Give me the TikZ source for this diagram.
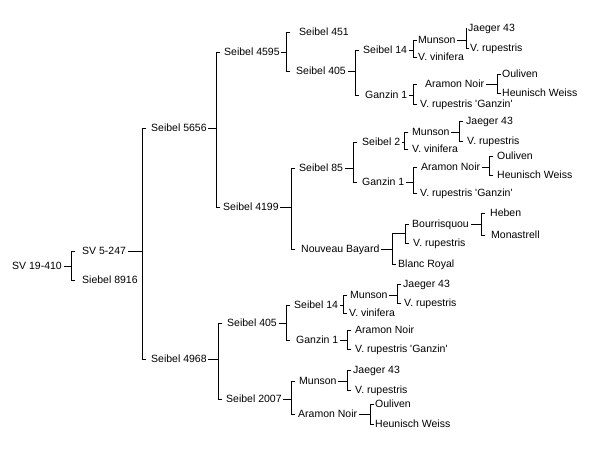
\documentclass[tikz,border=0pt]{standalone}
\usepackage{fontspec}
\newfontfamily\cvfont{Liberation Sans}

\begin{document}
\begin{tikzpicture}[x=1pt, y=-1pt,
    cv/.style={anchor=west, inner xsep=2pt, inner ysep=0pt, text height=7.5pt, text depth=0pt, font=\cvfont\fontsize{10.5}{12}\selectfont},
    ln/.style={line width=0.8pt, line cap=rect}
]
\path[fill=white] (0,0) rectangle (592,459);
\useasboundingbox (0,0) rectangle (592,459);

\node[cv] (sv19) at (10,266) {SV 19-410};
\node[cv] (sv5) at (80,251) {SV 5-247};
\node[cv] (s8916) at (80,280) {Siebel 8916};
\node[cv] (s5656) at (149,128) {Seibel 5656};
\node[cv] (s4968) at (149,359) {Seibel 4968};
\node[cv] (s4595) at (222,52) {Seibel 4595};
\node[cv] (s4199) at (221,207) {Seibel 4199};

\node[cv] (s451) at (297,32) {Seibel 451};
\node[cv] (s405a) at (294,71) {Seibel 405};
\node[cv] (s14a) at (361,50) {Seibel 14};
\node[cv] (g1a) at (363,95) {Ganzin 1};
\node[cv] (mua) at (416,40) {Munson};
\node[cv] (vva) at (416,57) {V. vinifera};
\node[cv] (jaa) at (466,28) {Jaeger 43};
\node[cv] (vra) at (468,48) {V. rupestris};
\node[cv] (ana) at (423,84) {Aramon Noir};
\node[cv] (vga) at (418,104) {V. rupestris 'Ganzin'};
\node[cv] (oua) at (500,74) {Ouliven};
\node[cv] (hwa) at (500,93) {Heunisch Weiss};

\node[cv] (s85) at (297,168) {Seibel 85};
\node[cv] (nb) at (299,249) {Nouveau Bayard};
\node[cv] (s2) at (360,142) {Seibel 2};
\node[cv] (g1b) at (360,182) {Ganzin 1};
\node[cv] (mub) at (410,132) {Munson};
\node[cv] (vvb) at (410,149) {V. vinifera};
\node[cv] (jab) at (464,121) {Jaeger 43};
\node[cv] (vrb) at (465,141) {V. rupestris};
\node[cv] (anb) at (419,167) {Aramon Noir};
\node[cv] (vgb) at (418,193) {V. rupestris 'Ganzin'};
\node[cv] (oub) at (495,156) {Ouliven};
\node[cv] (hwb) at (495,175) {Heunisch Weiss};
\coordinate (bx) at (405,233);
\node[cv] (bou) at (410,224) {Bourrisquou};
\node[cv] (vrc) at (411,243) {V. rupestris};
\node[cv] (br) at (396,264) {Blanc Royal};
\node[cv] (heb) at (488,213) {Heben};
\node[cv] (mon) at (489,235) {Monastrell};

\node[cv] (s405b) at (225,323) {Seibel 405};
\node[cv] (s2007) at (224,399) {Seibel 2007};
\node[cv] (s14b) at (292,305) {Seibel 14};
\node[cv] (g1c) at (294,340) {Ganzin 1};
\node[cv] (muc) at (348,295) {Munson};
\node[cv] (vvc) at (347,313) {V. vinifera};
\node[cv] (jac) at (401,284) {Jaeger 43};
\node[cv] (vrd) at (402,303) {V. rupestris};
\node[cv] (anc) at (353,330) {Aramon Noir};
\node[cv] (vgc) at (353,349) {V. rupestris 'Ganzin'};
\node[cv] (mud) at (297,381) {Munson};
\node[cv] (an4) at (296,414) {Aramon Noir};
\node[cv] (jad) at (351,370) {Jaeger 43};
\node[cv] (vre) at (353,390) {V. rupestris};
\node[cv] (oud) at (373,404) {Ouliven};
\node[cv] (hwd) at (373,424) {Heunisch Weiss};

\draw[ln] (sv19.east) -- (sv19.east -| 71,0) (sv5.west -| 75,0) -| (s8916.west -| 71,0) -- (s8916.west -| 75,0);
\draw[ln] (sv5.east) -- (sv5.east -| 142,0) (s5656.west -| 146,0) -| (s4968.west -| 142,0) -- (s4968.west -| 146,0);
\draw[ln] (s5656.east) -- (s5656.east -| 216,0) (s4595.west -| 220,0) -| (s4199.west -| 216,0) -- (s4199.west -| 220,0);
\draw[ln] (s4595.east) -- (s4595.east -| 286,0) (s451.west -| 290,0) -| (s405a.west -| 286,0) -- (s405a.west -| 290,0);
\draw[ln] (s405a.east) -- (s405a.east -| 355,0) (s14a.west -| 359,0) -| (g1a.west -| 355,0) -- (g1a.west -| 359,0);
\draw[ln] (s14a.east) -- (s14a.east -| 413,0) (mua.west -| 417,0) -| (vva.west -| 413,0) -- (vva.west -| 417,0);
\draw[ln] (mua.east) -- (mua.east -| 466,0) (jaa.west -| 467,0) -| (vra.west -| 466,0) -- (vra.west -| 469,0);
\draw[ln] (g1a.east) -- (g1a.east -| 413,0) (ana.west -| 417,0) -| (vga.west -| 413,0) -- (vga.west -| 417,0);
\draw[ln] (ana.east) -- (ana.east -| 497,0) (oua.west -| 501,0) -| (hwa.west -| 497,0) -- (hwa.west -| 501,0);

\draw[ln] (s4199.east) -- (s4199.east -| 291,0) (s85.west -| 295,0) -| (nb.west -| 291,0) -- (nb.west -| 295,0);
\draw[ln] (s85.east) -- (s85.east -| 353,0) (s2.west -| 357,0) -| (g1b.west -| 353,0) -- (g1b.west -| 357,0);
\draw[ln] (s2.east) -- (s2.east -| 404,0) (mub.west -| 408,0) -| (vvb.west -| 404,0) -- (vvb.west -| 408,0);
\draw[ln] (mub.east) -- (mub.east -| 459,0) (jab.west -| 463,0) -| (vrb.west -| 459,0) -- (vrb.west -| 463,0);
\draw[ln] (g1b.east) -- (g1b.east -| 413,0) (anb.west -| 417,0) -| (vgb.west -| 413,0) -- (vgb.west -| 417,0);
\draw[ln] (anb.east) -- (anb.east -| 489,0) (oub.west -| 493,0) -| (hwb.west -| 489,0) -- (hwb.west -| 493,0);
\draw[ln] (nb.east) -- (nb.east -| 392,0) (bx) -| (br.west -| 392,0) -- (br.west -| 396,0);
\draw[ln] (bou.west -| 409,0) -| (vrc.west -| 405,0) -- (vrc.west -| 409,0);
\draw[ln] (bou.east) -- (bou.east -| 481,0) (heb.west -| 485,0) -| (mon.west -| 481,0) -- (mon.west -| 485,0);

\draw[ln] (s4968.east) -- (s4968.east -| 218,0) (s405b.west -| 222,0) -| (s2007.west -| 218,0) -- (s2007.west -| 222,0);
\draw[ln] (s405b.east) -- (s405b.east -| 286,0) (s14b.west -| 290,0) -| (g1c.west -| 286,0) -- (g1c.west -| 290,0);
\draw[ln] (s14b.east) -- (s14b.east -| 343,0) (muc.west -| 347,0) -| (vvc.west -| 343,0) -- (vvc.west -| 347,0);
\draw[ln] (muc.east) -- (muc.east -| 397,0) (jac.west -| 401,0) -| (vrd.west -| 397,0) -- (vrd.west -| 401,0);
\draw[ln] (g1c.east) -- (g1c.east -| 347,0) (anc.west -| 351,0) -| (vgc.west -| 347,0) -- (vgc.west -| 351,0);
\draw[ln] (s2007.east) -- (s2007.east -| 291,0) (mud.west -| 295,0) -| (an4.west -| 291,0) -- (an4.west -| 295,0);
\draw[ln] (mud.east) -- (mud.east -| 347,0) (jad.west -| 351,0) -| (vre.west -| 347,0) -- (vre.west -| 351,0);
\draw[ln] (an4.east) -- (an4.east -| 370,0) (oud.west -| 374,0) -| (hwd.west -| 370,0) -- (hwd.west -| 374,0);
\end{tikzpicture}
\end{document}
